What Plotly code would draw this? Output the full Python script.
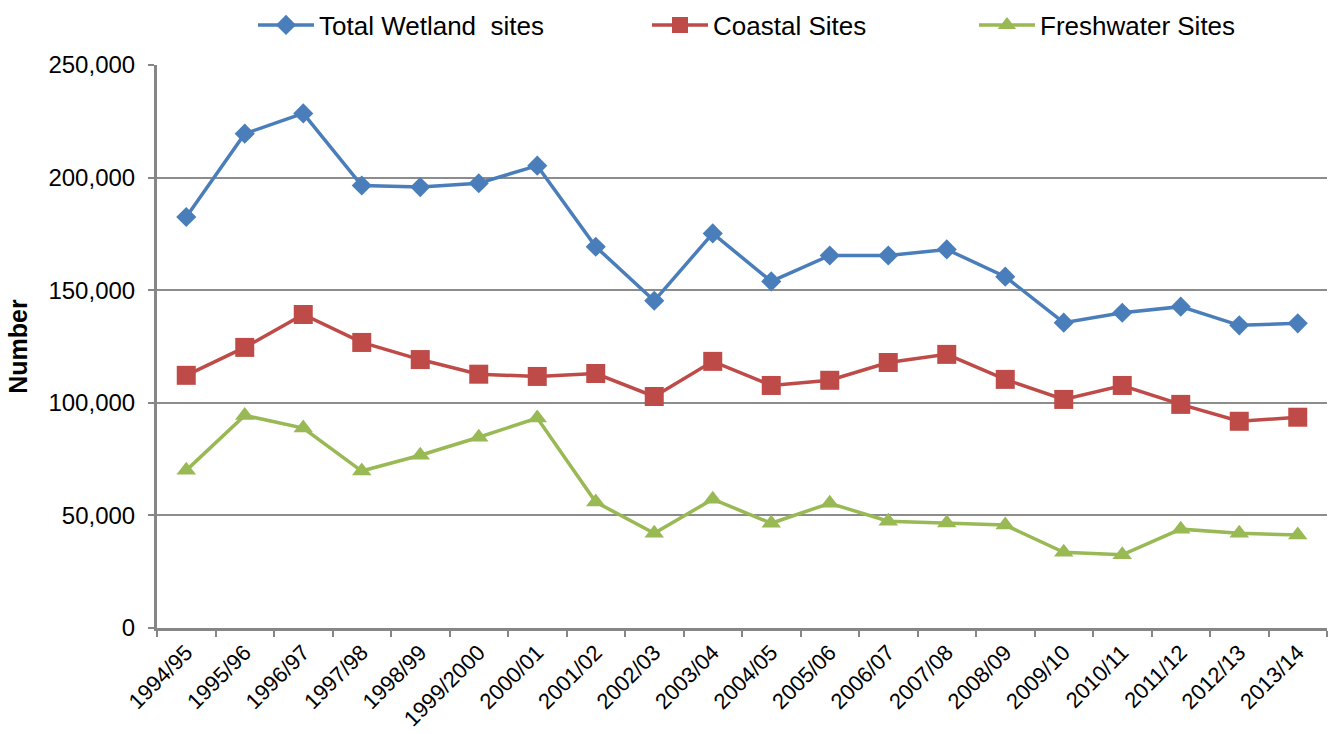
import plotly.graph_objects as go

years = ["1994/95", "1995/96", "1996/97", "1997/98", "1998/99", "1999/2000", "2000/01",
         "2001/02", "2002/03", "2003/04", "2004/05", "2005/06", "2006/07", "2007/08",
         "2008/09", "2009/10", "2010/11", "2011/12", "2012/13", "2013/14"]

total = [182500, 219500, 228500, 196500, 195800, 197500, 205300, 169300, 145300, 175200,
         153900, 165400, 165400, 168100, 156000, 135600, 140000, 142700, 134400, 135300]
coastal = [112200, 124600, 139200, 126800, 119200, 112700, 111700, 113000, 102800, 118400,
           107700, 110000, 117900, 121500, 110400, 101500, 107700, 99300, 91800, 93600]
fresh = [70000, 94400, 88800, 69700, 76700, 84700, 93200, 55900, 42100, 57200,
         46500, 55400, 47400, 46600, 45700, 33600, 32500, 43900, 42100, 41300]

series = [
    ("Total Wetland  sites", total, "#4a7ebb", "diamond", 15.5, "legend", 258),
    ("Coastal Sites", coastal, "#be4b48", "square", 19, "legend2", 652),
    ("Freshwater Sites", fresh, "#98b954", "triangle-up", 17, "legend3", 979),
]

L, R, T, B = 157, 6, 65, 106
W, H = 1333, 734
pw, ph = W - L - R, H - T - B

font = "Liberation Sans, Arial, sans-serif"
fig = go.Figure()
legends = {}
for name, vals, col, sym, sz, lg, px in series:
    fig.add_trace(go.Scatter(
        x=years, y=vals, name=name, mode="lines+markers", legend=lg,
        line=dict(color=col, width=3.5),
        marker=dict(symbol=sym, size=sz, color=col),
    ))
    legends[lg] = dict(
        x=(px - L - 5) / pw, xanchor="left",
        y=1 + (T - 25) / ph, yanchor="middle",
        orientation="h", itemwidth=56, font=dict(size=26, family=font),
        bgcolor="rgba(0,0,0,0)",
    )

fig.update_layout(
    width=W, height=H, autosize=False,
    margin=dict(l=L, r=R, t=T, b=B, autoexpand=False),
    plot_bgcolor="white", paper_bgcolor="white",
    font=dict(family=font, size=24, color="black"),
    showlegend=True,
    xaxis=dict(type="category", categoryorder="array", categoryarray=years,
               range=[-0.5, len(years) - 0.5],
               tickangle=-45, tickson="boundaries", ticks="outside", ticklen=6,
               tickwidth=2, tickcolor="#868686", showline=True, linecolor="#868686",
               linewidth=3, showgrid=False, tickfont=dict(size=22), automargin=False),
    yaxis=dict(range=[0, 250000], dtick=50000, tickformat=",", ticks="outside",
               ticklen=6, tickwidth=2, tickcolor="#868686", showline=True,
               linecolor="#868686", linewidth=3, showgrid=True, gridcolor="#8c8c8c",
               gridwidth=1.5, zeroline=False, tickfont=dict(size=24), automargin=False,
               ticklabelstandoff=8,
               title=dict(text="<b>Number</b>", font=dict(size=25), standoff=14)),
    **legends,
)

fig.write_html(
    "out.html",
    config={"responsive": False, "displayModeBar": False},
    post_script="document.body.style.margin='0';document.body.style.overflow='hidden';",
)
